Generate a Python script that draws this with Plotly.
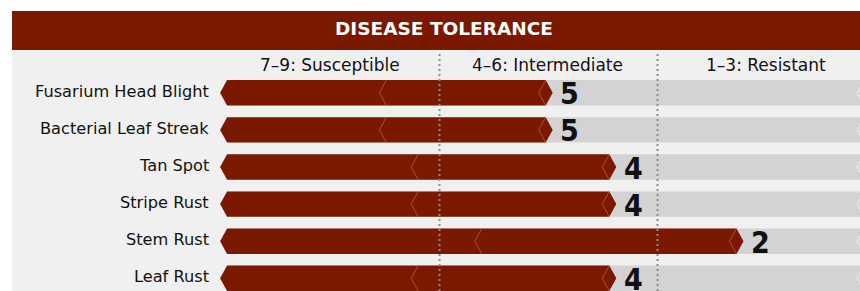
import plotly.graph_objects as go

# ---- data ----
diseases = ["Fusarium Head Blight", "Bacterial Leaf Streak", "Tan Spot",
            "Stripe Rust", "Stem Rust", "Leaf Rust"]
scores = [5, 5, 4, 4, 2, 4]
zone_labels = ["7–9: Susceptible", "4–6: Intermediate", "1–3: Resistant"]
title_text = "DISEASE TOLERANCE"

# ---- style ----
RED = "#7b1900"
TRACK = "#d3d3d5"
BG = "#f0f0f0"
SEAM = "rgba(215,120,95,0.55)"
W, H = 860, 291
ML, MT = 12, 11
X0, X1 = 12, 860                  # plot area, page pixels
Y0, Y1 = 11, 291
X_RANGE = [13.502, 0.168]         # score axis, reversed (9 = susceptible on left)
Y_RANGE = [5.342, -2.205]         # row index axis, reversed
START = 10.23                     # left tip of every bar, in score units
TIP = 0.11                        # arrow-tip depth, in score units
HALF = 0.342                      # half bar height, in row units

fig = go.Figure()


def poly(xs, ys, fill, line=None, width=0):
    fig.add_trace(go.Scatter(
        x=xs, y=ys, mode="lines", fill="toself" if fill else None,
        fillcolor=fill, line=dict(color=line or "rgba(0,0,0,0)", width=width),
        hoverinfo="skip", showlegend=False))


for i, v in enumerate(scores):
    top, bot = i - HALF, i + HALF
    # grey track
    poly([START - TIP, -1, -1, START - TIP, START - TIP],
         [top, top, bot, bot, top], TRACK)
    # track seam near the right end
    poly([0.10, 0.215, 0.10], [top, i, bot], None, line="rgba(255,255,255,0.7)", width=1)
    # red arrow bar
    poly([START, START - TIP, v + TIP, v, v + TIP, START - TIP, START],
         [i, top, top, i, bot, bot, i], RED)
    # faint seams (segment joins)
    mid = (START + v) / 2
    poly([mid, mid + TIP, mid], [top, i, bot], None, line=SEAM, width=1)
    poly([v + TIP, v + 2 * TIP, v + TIP], [top, i, bot], None, line=SEAM, width=1)


def px_x(p):
    return (p - X0) / (X1 - X0)


def px_y(p):
    return (Y1 - p) / (Y1 - Y0)


shapes = [
    dict(type="rect", xref="paper", yref="paper", x0=0, x1=1,
         y0=px_y(50), y1=1, fillcolor=RED, line_width=0, layer="below"),
]
for px in (439.5, 657.5):
    shapes.append(dict(type="line", xref="paper", yref="paper", x0=px_x(px), x1=px_x(px),
                       y0=0, y1=px_y(53),
                       line=dict(color="#8c8c8c", width=2, dash="2px,3px"), layer="above"))

annotations = [
    dict(text="<b>" + title_text + "</b>", xref="paper", yref="paper",
         x=px_x(444), y=px_y(28.5), showarrow=False, xanchor="center", yanchor="middle",
         font=dict(family="DejaVu Sans", size=18.5, color="white")),
]
for lbl, cx in zip(zone_labels, (330, 547.5, 766)):
    annotations.append(dict(text=lbl, xref="paper", yref="paper", x=px_x(cx), y=px_y(64.5),
                            showarrow=False, xanchor="center", yanchor="middle",
                            font=dict(family="DejaVu Sans", size=17, color="#111")))
for i, (d, v) in enumerate(zip(diseases, scores)):
    annotations.append(dict(text=d, xref="paper", yref="y", x=px_x(211), y=i,
                            showarrow=False, xanchor="right", yanchor="middle", yshift=1.5,
                            font=dict(family="DejaVu Sans", size=16.2, color="#111")))
    annotations.append(dict(text=str(v), xref="x", yref="y", x=v - 0.09, y=i,
                            showarrow=False, xanchor="left", yanchor="middle", yshift=-1,
                            font=dict(family="DejaVu Sans Condensed, DejaVu Sans",
                                      size=30, color="#111", weight="bold")))

fig.update_layout(
    width=W, height=H, margin=dict(l=ML, r=0, t=MT, b=0),
    paper_bgcolor="white", plot_bgcolor=BG,
    xaxis=dict(range=X_RANGE, visible=False, fixedrange=True),
    yaxis=dict(range=Y_RANGE, visible=False, fixedrange=True),
    shapes=shapes, annotations=annotations, showlegend=False,
)
fig.write_html("out.html",
               config={"displayModeBar": False},
               post_script="document.body.style.margin='0';"
                           "document.body.style.overflow='hidden';")
